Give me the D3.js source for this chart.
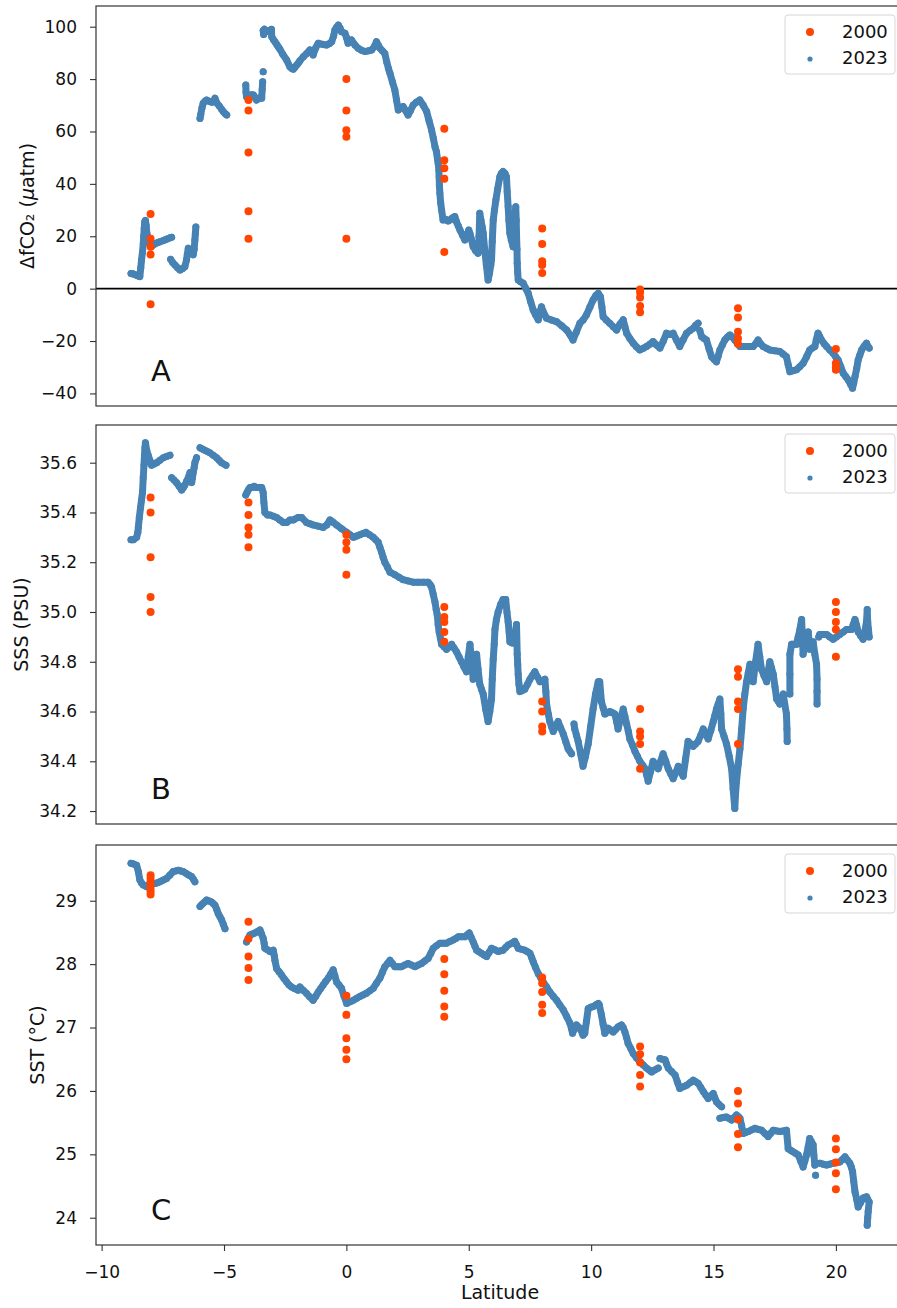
<!DOCTYPE html>
<html>
<head>
<meta charset="utf-8">
<script src="https://cdn.jsdelivr.net/npm/d3@7"></script>
<style>
  body { margin: 0; background: #fff; }
  text { font-family: "DejaVu Sans", sans-serif; fill: #111; }
</style>
</head>
<body>
<div id="chart"></div>
<script>
// Stations of the 2000 cruise (latitude) and the values measured there
var stationLat = [-8, -4, 0, 4, 8, 12, 16, 20];

var fco2_2000 = [
  [28.5, 19, 16, 13, -6], [72, 68, 52, 29.5, 19], [80, 68, 60.5, 58, 19], [61, 49, 46, 42, 14],
  [23, 17, 10.5, 9, 6], [-0.3, -1.5, -3.4, -6.6, -9], [-7.5, -11, -16.5, -19, -21], [-23, -28.5, -30, -31]
];
var sss_2000 = [
  [35.46, 35.40, 35.22, 35.06, 35.00], [35.44, 35.39, 35.34, 35.31, 35.26], [35.31, 35.28, 35.25, 35.15],
  [35.02, 34.98, 34.96, 34.92, 34.88], [34.64, 34.60, 34.54, 34.52], [34.61, 34.52, 34.50, 34.47, 34.37],
  [34.77, 34.74, 34.64, 34.61, 34.47], [35.04, 35.00, 34.96, 34.93, 34.82]
];
var sst_2000 = [
  [29.40, 29.35, 29.30, 29.25, 29.20, 29.15, 29.10], [28.67, 28.40, 28.12, 27.94, 27.75],
  [27.50, 27.20, 26.83, 26.65, 26.50], [28.08, 27.84, 27.58, 27.33, 27.17],
  [27.79, 27.70, 27.56, 27.36, 27.23], [26.70, 26.58, 26.45, 26.25, 26.07],
  [26.00, 25.80, 25.55, 25.32, 25.11], [25.25, 25.08, 24.87, 24.70, 24.45]
];

// 2023 underway track: [latitude, value], null = gap in the record
var fco2_2023 = [
  [-8.80,5.8],[-8.70,5.6],[-8.60,5.2],[-8.50,4.8],[-8.44,4.6],[-8.40,8],[-8.37,11],[-8.33,14],[-8.30,17],[-8.28,20],
  [-8.26,23],[-8.24,25.5],[-8.21,26],[-8.18,24],[-8.15,21],[-8.10,19],[-8.05,17.5],[-7.98,16],[-7.89,16.7],[-7.80,17.2],
  [-7.70,17.6],[-7.62,17.9],[-7.50,18.3],[-7.40,18.7],[-7.30,19.0],[-7.20,19.4],[-7.14,19.6], null,
  [-7.18,11.2],[-7.10,10.0],[-7.00,9.0],[-6.90,8.0],[-6.80,7.1],[-6.70,7.6],[-6.60,8.4],[-6.53,11.0],[-6.50,13],
  [-6.46,15.4],[-6.40,14.8],[-6.32,14.1],[-6.26,12.9],[-6.22,15],[-6.19,18.6],[-6.17,21],[-6.15,23.5], null,
  [-5.98,65],[-5.95,66.5],[-5.90,69],[-5.85,70.8],[-5.78,71.5],[-5.71,72.0],[-5.60,71.5],[-5.50,71.2],[-5.44,71.4],
  [-5.37,72.7],[-5.30,71],[-5.20,69.8],[-5.10,68.5],[-5.03,67.6],[-4.95,66.8],[-4.89,66.3], null,
  [-4.11,77.7],[-4.10,75],[-4.08,73.3],[-4.00,73.5],[-3.94,73.3],[-3.87,74],[-3.80,73.9],[-3.73,73],[-3.67,72],
  [-3.60,72.5],[-3.52,73],[-3.46,72.7],[-3.44,76],[-3.42,79], null, [-3.40,82.8], null,
  [-3.38,97],[-3.40,98.5],[-3.35,99],[-3.27,98.1],[-3.15,98.5],[-3.06,99.0],[-3.05,96.2],[-2.98,95],[-2.92,94.3],
  [-2.85,93.3],[-2.79,92.4],[-2.72,91.5],[-2.60,89.5],[-2.44,87.3],[-2.31,84.7],[-2.24,84.1],[-2.17,83.8],[-2.10,84.5],
  [-2.03,85.4],[-1.97,86.0],[-1.90,87],[-1.76,88.5],[-1.62,89.8],[-1.49,91.1],[-1.42,90.5],[-1.36,89.2],[-1.25,92],
  [-1.15,93.7],[-1.00,93.3],[-0.81,93.0],[-0.70,93.5],[-0.60,94.3],[-0.52,96.5],[-0.47,98.7],[-0.40,99.8],[-0.33,100.6],
  [-0.26,99.5],[-0.20,98.1],[-0.06,97.5],[0.00,96],[0.07,93.7],[0.21,94.9],[0.35,93],[0.48,91.8],[0.62,91],[0.76,90.5],
  [0.90,90.8],[1.03,91.1],[1.15,92.5],[1.23,94.3],[1.30,93],[1.37,91.8],[1.47,90.8],[1.57,89.8],[1.65,86.5],[1.72,84],
  [1.78,82.2],[1.88,79],[1.98,75.8],[2.05,72],[2.12,68.2],[2.22,69],[2.32,69.5],[2.42,68],[2.52,66.3],[2.62,68],
  [2.73,70.1],[2.86,71.2],[3.00,72.0],[3.14,70],[3.28,67.6],[3.38,64],[3.48,60.6],[3.55,57.5],[3.62,54.2],[3.68,52.3],
  [3.72,49.5],[3.75,47.9],[3.78,45],[3.79,42.7],[3.80,39.5],[3.82,36.4],[3.85,33],[3.89,30.0],[3.95,26.2],[4.05,26.5],
  [4.15,25.8],[4.23,26.2],[4.33,27],[4.43,27.5],[4.50,25.5],[4.57,24],[4.64,22.4],[4.74,20.5],[4.84,18.6],[4.92,20],
  [5.00,22.4],[5.05,21],[5.10,19],[5.18,16.0],[5.28,14.5],[5.38,13.5],[5.42,20],[5.45,28.8],[5.50,26],[5.55,23.5],
  [5.59,21.1],[5.65,15],[5.72,9],[5.79,3.3],[5.85,6],[5.90,9],[5.93,11.0],[5.96,18],[6.00,26.2],[6.05,30],[6.11,33.9],
  [6.18,38],[6.27,42.7],[6.33,44],[6.40,44.7],[6.48,44],[6.54,42.7],[6.57,37],[6.61,31.3],[6.64,26],[6.68,21.1],
  [6.74,18.5],[6.81,16.0],[6.86,24],[6.92,31.3],[6.94,26],[6.95,21.1],[6.97,15],[6.98,9.7],[7.00,6],[7.02,3.3],
  [7.12,2.6],[7.22,2.1],[7.32,0.2],[7.43,-1.8],[7.53,-5],[7.63,-8.1],[7.73,-10],[7.84,-11.9],[7.90,-9],[7.97,-6.9],
  [8.05,-9],[8.18,-11.3],[8.38,-12],[8.59,-12.6],[8.80,-14.2],[9.00,-15.8],[9.13,-17.5],[9.26,-19.6],[9.40,-16.5],
  [9.54,-13.2],[9.67,-12.0],[9.81,-10],[9.95,-7],[10.08,-4.3],[10.20,-2.5],[10.29,-1.8],[10.38,-3.1],[10.44,-7],
  [10.49,-10.7],[10.62,-12],[10.76,-13.2],[10.90,-14.5],[11.04,-15.8],[11.18,-13.5],[11.31,-11.9],[11.38,-14.5],
  [11.45,-17.0],[11.58,-19],[11.72,-20.8],[11.85,-22.2],[11.99,-23.4],[12.13,-22.8],[12.26,-22.1],[12.40,-21.2],
  [12.53,-20.2],[12.67,-21.5],[12.81,-22.7],[12.95,-20],[13.08,-17.0],[13.22,-17.5],[13.35,-17.0],[13.48,-19.5],
  [13.62,-22.1],[13.76,-19.5],[13.90,-17.0],[14.04,-16],[14.17,-15.1],[14.27,-14],[14.37,-13.2], null,
  [14.44,-16],[14.51,-18.3],[14.61,-19],[14.71,-19.6],[14.82,-23],[14.92,-26.0],[15.02,-27],[15.12,-27.9],[15.20,-25.5],
  [15.26,-23.4],[15.36,-21.5],[15.46,-19.6],[15.57,-18.5],[15.67,-17.7],[15.77,-18.5],[15.87,-19.6],[15.98,-21],
  [16.08,-22.1],[16.22,-22.1],[16.35,-22.1],[16.49,-22.1],[16.62,-22.1],[16.72,-21],[16.82,-19.6],[16.92,-21],
  [17.03,-22.1],[17.17,-22.8],[17.30,-23.4],[17.50,-23.7],[17.71,-24.0],[17.85,-25],[17.98,-26.0],[18.05,-29],
  [18.12,-31.7],[18.25,-31.3],[18.39,-31.0],[18.52,-29.8],[18.66,-28.5],[18.80,-26],[18.93,-23.4],[19.04,-22.7],
  [19.14,-22.1],[19.20,-19.5],[19.27,-17.0],[19.34,-18.3],[19.41,-19.6],[19.52,-21],[19.62,-22.1],[19.75,-23.4],
  [19.89,-24.7],[19.99,-26],[20.09,-27.2],[20.20,-29.8],[20.30,-32.3],[20.40,-33.5],[20.50,-34.8],[20.60,-36.5],
  [20.68,-38.0],[20.73,-36],[20.78,-33.6],[20.85,-30.5],[20.91,-27.2],[20.98,-25.3],[21.05,-23.4],[21.15,-22],
  [21.25,-20.8],[21.36,-22.7]
];

var sss_2023 = [
  [-8.80,35.29],[-8.70,35.29],[-8.57,35.30],[-8.52,35.32],[-8.50,35.34],[-8.46,35.38],[-8.41,35.42],[-8.37,35.45],
  [-8.33,35.48],[-8.30,35.54],[-8.27,35.59],[-8.25,35.63],[-8.23,35.66],[-8.21,35.68],[-8.16,35.65],[-8.10,35.63],
  [-8.03,35.61],[-7.96,35.59],[-7.85,35.595],[-7.75,35.60],[-7.62,35.61],[-7.48,35.62],[-7.35,35.625],[-7.21,35.63], null,
  [-7.14,35.54],[-7.04,35.53],[-6.94,35.52],[-6.83,35.505],[-6.73,35.49],[-6.66,35.50],[-6.60,35.51],[-6.53,35.525],
  [-6.46,35.54],[-6.39,35.56],[-6.35,35.54],[-6.32,35.52],[-6.29,35.54],[-6.26,35.56],[-6.22,35.58],[-6.19,35.60],
  [-6.12,35.62], null,
  [-5.98,35.66],[-5.88,35.655],[-5.78,35.65],[-5.68,35.645],[-5.58,35.64],[-5.44,35.63],[-5.30,35.62],[-5.20,35.61],
  [-5.10,35.60],[-4.92,35.59], null,
  [-4.11,35.47],[-4.06,35.48],[-4.01,35.49],[-3.94,35.50],[-3.87,35.50],[-3.77,35.505],[-3.67,35.50],[-3.56,35.50],
  [-3.46,35.50],[-3.40,35.48],[-3.37,35.44],[-3.33,35.40],[-3.22,35.39],[-3.12,35.39],[-2.98,35.385],[-2.85,35.38],
  [-2.72,35.37],[-2.58,35.36],[-2.44,35.36],[-2.31,35.37],[-2.17,35.37],[-1.97,35.38],[-1.83,35.38],[-1.63,35.36],
  [-1.50,35.355],[-1.36,35.35],[-1.15,35.345],[-0.95,35.34],[-0.80,35.35],[-0.67,35.37],[-0.53,35.36],[-0.40,35.35],
  [-0.20,35.335],[0.01,35.32],[0.15,35.31],[0.28,35.30],[0.42,35.305],[0.55,35.31],[0.68,35.315],[0.80,35.32],
  [0.95,35.31],[1.10,35.30],[1.20,35.29],[1.30,35.28],[1.37,35.26],[1.44,35.24],[1.50,35.22],[1.57,35.20],[1.68,35.18],
  [1.78,35.16],[1.98,35.15],[2.15,35.14],[2.32,35.13],[2.52,35.125],[2.73,35.12],[2.93,35.12],[3.14,35.12],[3.34,35.12],
  [3.42,35.11],[3.48,35.10],[3.55,35.07],[3.62,35.04],[3.67,35.01],[3.71,34.99],[3.75,34.95],[3.79,34.92],[3.84,34.895],
  [3.89,34.87],[3.99,34.86],[4.09,34.85],[4.20,34.86],[4.30,34.87],[4.40,34.855],[4.50,34.84],[4.60,34.82],[4.70,34.80],
  [4.80,34.78],[4.91,34.76],[4.98,34.82],[5.05,34.87],[5.12,34.80],[5.18,34.73],[5.25,34.78],[5.32,34.83],[5.38,34.77],
  [5.45,34.71],[5.52,34.69],[5.59,34.67],[5.69,34.61],[5.79,34.56],[5.86,34.60],[5.93,34.65],[5.96,34.73],[6.00,34.81],
  [6.04,34.87],[6.07,34.93],[6.13,34.97],[6.20,35.00],[6.30,35.03],[6.40,35.05],[6.51,35.05],[6.56,35.00],[6.61,34.96],
  [6.65,34.92],[6.68,34.88],[6.78,34.875],[6.88,34.88],[6.95,34.95],[6.98,34.83],[7.00,34.79],[7.02,34.75],[7.05,34.71],
  [7.09,34.68],[7.19,34.685],[7.29,34.69],[7.40,34.71],[7.50,34.73],[7.60,34.745],[7.70,34.76],[7.80,34.74],[7.91,34.72],
  [8.00,34.725],[8.11,34.73],[8.15,34.68],[8.18,34.63],[8.25,34.59],[8.31,34.56],[8.38,34.54],[8.45,34.52],[8.55,34.54],
  [8.65,34.56],[8.75,34.535],[8.86,34.51],[8.96,34.48],[9.06,34.45],[9.13,34.44],[9.20,34.43], null,
  [9.30,34.55],[9.33,34.53],[9.40,34.505],[9.47,34.48],[9.57,34.43],[9.67,34.38],[9.77,34.42],[9.88,34.47],[9.98,34.54],
  [10.08,34.61],[10.18,34.67],[10.29,34.72],[10.35,34.72],[10.42,34.64],[10.49,34.615],[10.56,34.59],[10.66,34.595],
  [10.76,34.60],[10.87,34.595],[10.97,34.59],[11.04,34.56],[11.10,34.53],[11.20,34.57],[11.31,34.61],[11.38,34.58],
  [11.45,34.55],[11.52,34.52],[11.58,34.49],[11.69,34.465],[11.79,34.44],[11.89,34.42],[11.99,34.40],[12.10,34.385],
  [12.20,34.37],[12.27,34.345],[12.33,34.32],[12.43,34.36],[12.53,34.40],[12.64,34.385],[12.74,34.37],[12.84,34.40],
  [12.94,34.43],[13.05,34.40],[13.15,34.37],[13.25,34.35],[13.35,34.33],[13.46,34.355],[13.56,34.38],[13.66,34.36],
  [13.76,34.34],[13.86,34.41],[13.96,34.48],[14.07,34.47],[14.17,34.46],[14.27,34.47],[14.37,34.48],[14.48,34.505],
  [14.58,34.53],[14.68,34.51],[14.78,34.49],[14.89,34.525],[14.99,34.56],[15.06,34.585],[15.12,34.61],[15.19,34.63],
  [15.26,34.65],[15.30,34.59],[15.33,34.53],[15.43,34.50],[15.53,34.47],[15.64,34.42],[15.74,34.37],[15.80,34.29],
  [15.87,34.21],[15.90,34.27],[15.94,34.32],[16.01,34.39],[16.08,34.45],[16.15,34.53],[16.21,34.61],[16.28,34.67],
  [16.35,34.72],[16.42,34.755],[16.49,34.79],[16.55,34.755],[16.62,34.72],[16.72,34.80],[16.82,34.87],[16.89,34.82],
  [16.96,34.77],[17.06,34.745],[17.17,34.72],[17.23,34.76],[17.30,34.80],[17.37,34.775],[17.44,34.75],[17.51,34.70],
  [17.58,34.65],[17.65,34.64],[17.71,34.63],[17.78,34.65],[17.85,34.67],[17.91,34.63],[17.98,34.59],[18.00,34.53],
  [18.01,34.48], null,
  [18.12,34.67],[18.12,34.75],[18.12,34.83],[18.19,34.87],[18.29,34.87],[18.39,34.87],[18.46,34.90],[18.53,34.93],
  [18.60,34.97],[18.63,34.90],[18.66,34.83],[18.76,34.875],[18.87,34.92],[18.93,34.85],[19.00,34.865],[19.07,34.88],
  [19.14,34.83],[19.21,34.79],[19.23,34.73],[19.23,34.68],[19.23,34.63], null,
  [19.30,34.90],[19.34,34.91],[19.48,34.91],[19.62,34.91],[19.75,34.90],[19.89,34.89],[20.02,34.90],[20.16,34.91],
  [20.30,34.92],[20.43,34.93],[20.54,34.93],[20.64,34.93],[20.71,34.95],[20.78,34.97],[20.85,34.945],[20.91,34.92],
  [21.01,34.905],[21.11,34.89],[21.18,34.92],[21.25,34.96],[21.28,35.01],[21.30,34.96],[21.33,34.93],[21.36,34.90]
];

var sst_2023 = [
  [-8.80,29.59],[-8.70,29.58],[-8.57,29.56],[-8.50,29.46],[-8.44,29.33],[-8.37,29.28],[-8.30,29.25],[-8.16,29.22],
  [-8.03,29.27],[-7.92,29.27],[-7.82,29.27],[-7.72,29.285],[-7.62,29.30],[-7.48,29.325],[-7.35,29.35],[-7.22,29.40],
  [-7.08,29.46],[-6.97,29.47],[-6.87,29.48],[-6.77,29.47],[-6.67,29.46],[-6.56,29.435],[-6.46,29.41],[-6.39,29.395],
  [-6.32,29.38],[-6.25,29.34],[-6.19,29.30], null,
  [-5.98,28.91],[-5.92,28.935],[-5.85,28.96],[-5.78,28.985],[-5.71,29.01],[-5.61,28.995],[-5.51,28.98],[-5.44,28.955],
  [-5.37,28.93],[-5.30,28.865],[-5.24,28.80],[-5.17,28.75],[-5.10,28.70],[-5.03,28.63],[-4.96,28.56], null,
  [-4.08,28.35],[-4.01,28.405],[-3.94,28.46],[-3.84,28.475],[-3.74,28.49],[-3.63,28.515],[-3.53,28.54],[-3.47,28.48],
  [-3.40,28.41],[-3.36,28.33],[-3.33,28.25],[-3.22,28.225],[-3.12,28.20],[-2.99,28.22],[-2.95,28.14],[-2.92,28.06],
  [-2.85,27.93],[-2.75,27.88],[-2.65,27.83],[-2.55,27.775],[-2.44,27.72],[-2.34,27.67],[-2.24,27.64],[-2.10,27.61],
  [-1.97,27.59],[-1.90,27.64],[-1.77,27.59],[-1.63,27.54],[-1.50,27.485],[-1.36,27.43],[-1.25,27.495],[-1.15,27.56],
  [-1.05,27.615],[-0.95,27.67],[-0.85,27.725],[-0.74,27.78],[-0.64,27.845],[-0.54,27.91],[-0.47,27.815],[-0.40,27.72],
  [-0.30,27.67],[-0.20,27.62],[-0.10,27.50],[0.01,27.38],[0.15,27.405],[0.28,27.43],[0.42,27.46],[0.55,27.49],
  [0.68,27.515],[0.82,27.54],[0.96,27.58],[1.10,27.62],[1.23,27.70],[1.37,27.78],[1.47,27.87],[1.57,27.96],[1.68,28.01],
  [1.78,28.06],[1.88,28.01],[1.98,27.96],[2.12,27.96],[2.25,27.96],[2.38,27.985],[2.52,28.01],[2.66,27.985],[2.80,27.96],
  [2.93,27.985],[3.07,28.01],[3.20,28.05],[3.34,28.09],[3.45,28.17],[3.55,28.25],[3.68,28.29],[3.82,28.33],[3.96,28.33],
  [4.09,28.33],[4.22,28.355],[4.36,28.38],[4.47,28.405],[4.57,28.43],[4.70,28.43],[4.84,28.43],[4.93,28.46],[5.02,28.49],
  [5.10,28.42],[5.18,28.35],[5.25,28.285],[5.32,28.22],[5.42,28.195],[5.52,28.17],[5.62,28.145],[5.73,28.12],
  [5.83,28.185],[5.93,28.25],[6.07,28.225],[6.20,28.20],[6.30,28.21],[6.40,28.22],[6.50,28.26],[6.61,28.30],[6.75,28.33],
  [6.88,28.36],[6.95,28.305],[7.02,28.25],[7.15,28.235],[7.29,28.22],[7.40,28.195],[7.50,28.17],[7.57,28.105],
  [7.63,28.04],[7.73,27.945],[7.84,27.85],[7.94,27.785],[8.04,27.72],[8.18,27.64],[8.31,27.56],[8.45,27.495],
  [8.59,27.43],[8.72,27.355],[8.86,27.28],[9.00,27.175],[9.13,27.07],[9.20,26.98],[9.24,26.91],[9.32,26.975],
  [9.40,27.04],[9.54,26.99],[9.67,26.88],[9.74,26.91],[9.81,27.10],[9.88,27.30],[9.98,27.32],[10.08,27.33],[10.20,27.36],
  [10.29,27.38],[10.33,27.36],[10.42,27.20],[10.49,27.05],[10.56,26.91],[10.63,26.95],[10.69,26.99],[10.80,26.96],
  [10.90,26.93],[11.00,26.97],[11.10,27.01],[11.17,27.025],[11.24,27.04],[11.31,27.0],[11.38,26.93],[11.45,26.84],
  [11.51,26.75],[11.62,26.67],[11.72,26.59],[11.85,26.525],[11.99,26.46],[12.13,26.41],[12.26,26.36],[12.37,26.33],
  [12.47,26.30],[12.60,26.33],[12.74,26.36], null,
  [12.81,26.51],[12.91,26.50],[13.02,26.49],[13.08,26.43],[13.15,26.36],[13.29,26.305],[13.43,26.25],[13.52,26.145],
  [13.62,26.04],[13.76,26.065],[13.90,26.09],[14.04,26.13],[14.17,26.17],[14.27,26.145],[14.37,26.12],[14.48,26.055],
  [14.58,25.99],[14.68,25.935],[14.78,25.88],[14.88,25.92],[14.99,25.96],[15.05,25.895],[15.12,25.83],[15.22,25.79],
  [15.33,25.75], null,
  [15.26,25.57],[15.40,25.58],[15.53,25.59],[15.64,25.565],[15.74,25.54],[15.84,25.58],[15.94,25.62],[16.01,25.595],
  [16.08,25.57],[16.15,25.45],[16.21,25.33],[16.31,25.345],[16.42,25.36],[16.55,25.385],[16.69,25.41],[16.82,25.395],
  [16.96,25.38],[17.10,25.33],[17.23,25.28],[17.33,25.33],[17.44,25.38],[17.58,25.37],[17.71,25.36],[17.85,25.37],
  [17.98,25.38],[18.05,25.09],[18.15,25.065],[18.25,25.04],[18.36,25.015],[18.46,24.99],[18.56,24.895],[18.66,24.80],
  [18.73,24.895],[18.80,24.99],[18.87,25.12],[18.93,25.25],[19.00,25.20],[19.07,25.15],[19.10,24.99],[19.14,24.83], null,
  [19.17,24.67], null,
  [19.34,24.86],[19.48,24.845],[19.62,24.83],[19.75,24.845],[19.89,24.86],[20.02,24.87],[20.16,24.88],[20.27,24.92],
  [20.37,24.96],[20.47,24.91],[20.57,24.86],[20.63,24.80],[20.68,24.73],[20.73,24.57],[20.78,24.41],[20.85,24.29],
  [20.91,24.17],[21.01,24.24],[21.11,24.31],[21.18,24.32],[21.25,24.33],[21.30,24.29],[21.36,24.25],[21.32,24.10],
  [21.30,24.00],[21.28,23.88]
];

// Axis ticks and legend
var latTicks = [-10, -5, 0, 5, 10, 15, 20];
var fco2Ticks = [-40, -20, 0, 20, 40, 60, 80, 100];
var sssTicks = [34.2, 34.4, 34.6, 34.8, 35.0, 35.2, 35.4, 35.6];
var sstTicks = [24, 25, 26, 27, 28, 29];
var legendYears = ["2000", "2023"];

// SVG dimensions
var svgWidth = 897;
var svgHeight = 1308;
var plotLeft = 96;
var plotRight = 901;

var orange = "#ff4500";
var blue = "#4682b4";

var svg = d3.select("#chart")
  .append("svg")
  .attr("width", svgWidth)
  .attr("height", svgHeight)
  .style("background", "#fff");

var xScale = d3.scaleLinear()
  .domain([-10.23, 22.66])
  .range([plotLeft, plotRight]);

var panels = [
  { track: fco2_2023, stations: fco2_2000, top: 6, bottom: 406, domain: [-44.8, 107.9],
    ticks: fco2Ticks, fmt: d3.format("d"), letter: "A", labelX: 27, zeroLine: true },
  { track: sss_2023, stations: sss_2000, top: 425, bottom: 824, domain: [34.148, 35.7515],
    ticks: sssTicks, fmt: d3.format(".1f"), letter: "B", labelX: 21 },
  { track: sst_2023, stations: sst_2000, top: 845, bottom: 1245, domain: [23.57, 29.879],
    ticks: sstTicks, fmt: d3.format("d"), letter: "C", labelX: 37.5, xAxis: true }
];

var line = d3.line()
  .defined(function (d) { return d !== null; })
  .x(function (d) { return xScale(d[0]); });

panels.forEach(function (p, i) {
  var yScale = d3.scaleLinear().domain(p.domain).range([p.bottom, p.top]);
  var g = svg.append("g");

  // y axis
  var yAxis = g.append("g")
    .attr("transform", "translate(" + plotLeft + ",0)")
    .call(d3.axisLeft(yScale).tickValues(p.ticks).tickFormat(p.fmt).tickSize(6).tickPadding(13));
  yAxis.select(".domain").remove();
  yAxis.selectAll("line").attr("stroke", "#333").attr("stroke-width", 1.1);
  yAxis.selectAll("text").attr("font-size", 17).attr("font-family", "DejaVu Sans").attr("fill", "#111");

  if (p.zeroLine) {
    g.append("line")
      .attr("x1", plotLeft).attr("x2", plotRight)
      .attr("y1", yScale(0)).attr("y2", yScale(0))
      .attr("stroke", "#000").attr("stroke-width", 1.6);
  }

  // 2023 track
  g.append("path")
    .datum(p.track)
    .attr("d", line.y(function (d) { return yScale(d[1]); }))
    .attr("fill", "none")
    .attr("stroke", blue)
    .attr("stroke-width", 7)
    .attr("stroke-linejoin", "round")
    .attr("stroke-linecap", "round");

  g.append("g").selectAll("circle")
    .data(p.track.filter(function (d) { return d !== null; }))
    .enter()
    .append("circle")
    .attr("cx", function (d) { return xScale(d[0]); })
    .attr("cy", function (d) { return yScale(d[1]); })
    .attr("r", 3.5)
    .attr("fill", blue);

  // 2000 stations
  var pts = [];
  stationLat.forEach(function (lat, k) {
    p.stations[k].forEach(function (v) { pts.push([lat, v]); });
  });
  g.append("g").selectAll("circle")
    .data(pts)
    .enter()
    .append("circle")
    .attr("cx", function (d) { return xScale(d[0]); })
    .attr("cy", function (d) { return yScale(d[1]); })
    .attr("r", 4)
    .attr("fill", orange);

  // frame
  g.append("rect")
    .attr("x", plotLeft).attr("y", p.top)
    .attr("width", plotRight - plotLeft).attr("height", p.bottom - p.top)
    .attr("fill", "none").attr("stroke", "#333").attr("stroke-width", 1.2);

  // panel letter
  g.append("text")
    .attr("x", 151).attr("y", p.bottom - 25)
    .attr("font-size", 29)
    .text(p.letter);

  // y label
  var yl = g.append("text")
    .attr("transform", "translate(" + p.labelX + "," + ((p.top + p.bottom) / 2) + ") rotate(-90)")
    .attr("text-anchor", "middle")
    .attr("dy", "0.35em")
    .attr("font-size", 19);
  if (i === 0) {
    yl.append("tspan").text("ΔfCO₂ (");
    yl.append("tspan").attr("font-style", "italic").text("μ");
    yl.append("tspan").text("atm)");
  } else if (i === 1) {
    yl.text("SSS (PSU)");
  } else {
    yl.text("SST (°C)");
  }

  // legend
  var lg = g.append("g").attr("transform", "translate(785," + (p.top + 9) + ")");
  lg.append("rect")
    .attr("width", 110).attr("height", 59).attr("rx", 3)
    .attr("fill", "#fff").attr("fill-opacity", 0.8)
    .attr("stroke", "#d6d6d6").attr("stroke-width", 1);
  legendYears.forEach(function (yr, k) {
    lg.append("circle")
      .attr("cx", 25).attr("cy", 17 + k * 27)
      .attr("r", k === 0 ? 4 : 2.6)
      .attr("fill", k === 0 ? orange : blue);
    lg.append("text")
      .attr("x", 57).attr("y", 22.5 + k * 26.5)
      .attr("font-size", 18)
      .text(yr);
  });

  if (p.xAxis) {
    var xAxis = g.append("g")
      .attr("transform", "translate(0," + p.bottom + ")")
      .call(d3.axisBottom(xScale).tickValues(latTicks).tickFormat(d3.format("d")).tickSize(6).tickPadding(15));
    xAxis.select(".domain").remove();
    xAxis.selectAll("line").attr("stroke", "#333").attr("stroke-width", 1.1);
    xAxis.selectAll("text").attr("font-size", 17).attr("font-family", "DejaVu Sans").attr("fill", "#111");

    g.append("text")
      .attr("x", 500).attr("y", 1299)
      .attr("text-anchor", "middle")
      .attr("font-size", 19)
      .text("Latitude");
  }
});
</script>
</body>
</html>
